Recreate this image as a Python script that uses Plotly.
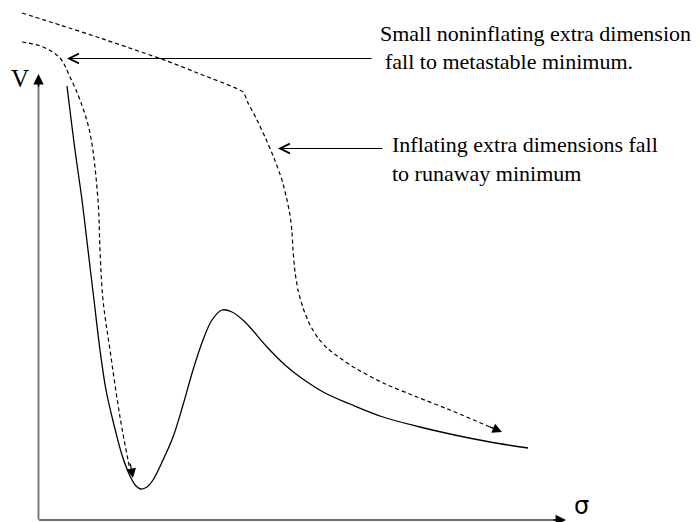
import plotly.graph_objects as go

# Schematic potential V(sigma), in window pixel units (x right, y down)
solid_x = [67, 75, 82, 88, 94, 100, 106, 114, 122, 130, 136, 141, 147, 153, 163, 173, 183, 193, 203, 212, 222, 232, 245, 267, 285, 300, 325, 350, 383, 420, 450, 490, 528]
solid_y = [86, 150, 200, 250, 300, 350, 390, 425, 455, 476, 486, 489, 487, 480, 460, 437, 405, 370, 340, 320, 310, 312, 322, 347, 365, 377, 393, 404, 417, 427, 434, 442, 448]

# Noninflating path (dashed) to metastable minimum
meta_x = [22, 43, 60, 70, 80, 90, 98, 100, 103, 110, 120, 130]
meta_y = [42, 47, 58, 77, 100, 133, 200, 250, 300, 350, 417, 470]

# Inflating path (dashed) to runaway minimum
run_x = [22, 60, 100, 167, 200, 243, 248, 256, 265, 274, 282, 287, 290, 292, 293, 295, 298, 303, 310, 318, 328, 340, 355, 383, 417, 450, 497]
run_y = [13, 25, 38, 61, 74, 92, 103, 118, 137, 158, 180, 200, 215, 232, 250, 272, 290, 308, 325, 338, 349, 358, 368, 383, 397, 410, 430]

label_lines = [
    ("Small noninflating extra dimensions", 378, 33),
    ("fall to metastable minimum.", 383, 61),
    ("Inflating extra dimensions fall", 390, 144.5),
    ("to runaway minimum", 390, 173),
]

W, H = 699, 522
OFF = 8  # page body margin
fig = go.Figure()
fig.add_trace(go.Scatter(x=solid_x, y=solid_y, mode="lines",
                         line=dict(color="black", width=1.3, shape="spline"), hoverinfo="skip"))
fig.add_trace(go.Scatter(x=meta_x, y=meta_y, mode="lines",
                         line=dict(color="black", width=1.2, dash="4px,3px", shape="spline"), hoverinfo="skip"))
fig.add_trace(go.Scatter(x=run_x, y=run_y, mode="lines",
                         line=dict(color="black", width=1.2, dash="4px,3px", shape="spline", smoothing=0.5),
                         hoverinfo="skip"))

ann = []
# axes (gray lines) with black arrowheads
ann.append(dict(x=38.5, y=80, ax=38.5, ay=521, xref="x", yref="y", axref="x", ayref="y",
                showarrow=True, arrowhead=0, arrowwidth=1.8, arrowcolor="#6e6e6e", text=""))
ann.append(dict(x=38.5, y=74, ax=38.5, ay=88, xref="x", yref="y", axref="x", ayref="y",
                showarrow=True, arrowhead=2, arrowsize=1.3, arrowwidth=1.6, arrowcolor="black", text=""))
ann.append(dict(x=560, y=520, ax=37.5, ay=520, xref="x", yref="y", axref="x", ayref="y",
                showarrow=True, arrowhead=0, arrowwidth=1.8, arrowcolor="#6e6e6e", text=""))
ann.append(dict(x=566, y=520, ax=552, ay=520, xref="x", yref="y", axref="x", ayref="y",
                showarrow=True, arrowhead=2, arrowsize=1.3, arrowwidth=1.6, arrowcolor="black", text=""))
# dashed-path arrowheads
ann.append(dict(x=133, y=478, ax=130, ay=462, xref="x", yref="y", axref="x", ayref="y",
                showarrow=True, arrowhead=2, arrowsize=1.6, arrowwidth=1.2, arrowcolor="black", text=""))
ann.append(dict(x=502, y=432, ax=488, ay=426, xref="x", yref="y", axref="x", ayref="y",
                showarrow=True, arrowhead=2, arrowsize=1.6, arrowwidth=1.2, arrowcolor="black", text=""))
# pointer arrows from text
ann.append(dict(x=67, y=58.5, ax=373, ay=58.5, xref="x", yref="y", axref="x", ayref="y",
                showarrow=True, arrowhead=5, arrowsize=1.6, arrowwidth=1.2, arrowcolor="black", text=""))
ann.append(dict(x=278, y=148.5, ax=384, ay=148.5, xref="x", yref="y", axref="x", ayref="y",
                showarrow=True, arrowhead=5, arrowsize=1.6, arrowwidth=1.2, arrowcolor="black", text=""))
for txt, x, y in label_lines:
    ann.append(dict(x=x, y=y, xref="x", yref="y", text=txt, showarrow=False, xanchor="left", yanchor="middle",
                    font=dict(family="Liberation Serif", size=22, color="black")))
ann.append(dict(x=20, y=78, xref="x", yref="y", text="V", showarrow=False,
                font=dict(family="Liberation Serif", size=25, color="black")))
ann.append(dict(x=581, y=522, xref="x", yref="y", text="σ", showarrow=False, yanchor="bottom",
                font=dict(family="DejaVu Sans", size=24, color="black")))

fig.update_layout(
    width=W - OFF, height=H - OFF, margin=dict(l=0, r=0, t=0, b=0),
    plot_bgcolor="white", paper_bgcolor="white", showlegend=False,
    xaxis=dict(range=[OFF, W], visible=False, fixedrange=True),
    yaxis=dict(range=[H, OFF], visible=False, fixedrange=True),
    annotations=ann, hovermode=False,
)
fig.write_html("out.html", config={"displayModeBar": False})
